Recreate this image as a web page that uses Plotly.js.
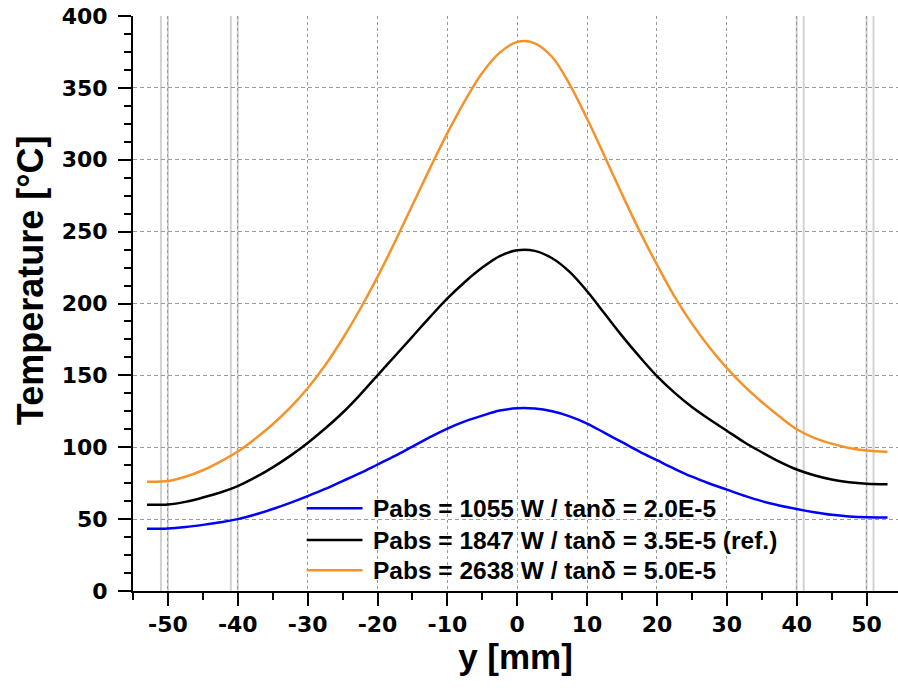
<!DOCTYPE html>
<html><head><meta charset="utf-8">
<script src="https://cdn.plot.ly/plotly-3.0.1.min.js"></script>
<style>html,body{margin:0;padding:0;background:#fff;overflow:hidden} #chart{width:898px;height:688px;}</style>
</head><body><div id="chart"></div>
<script>
// ---- data ----
const yPos     = [-53, -50, -47.5, -45, -42.5, -40, -37.5, -35, -32.5, -30, -27.5, -25, -22.5, -20, -17.5, -15, -12.5, -10, -7.5, -5, -2.5, 0, 2.5, 5, 7.5, 10, 12.5, 15, 17.5, 20, 22.5, 25, 27.5, 30, 32.5, 35, 37.5, 40, 42.5, 45, 47.5, 50, 53];
const tempLow  = [43.3, 43.5, 44.5, 46, 47.8, 50, 53.2, 57, 61.3, 66, 71, 76.5, 82, 88, 94, 100.5, 107, 113, 118, 122, 125.5, 127.1, 126.9, 125, 121.5, 116.5, 110, 103.5, 97, 91, 85, 79.5, 74.8, 70.5, 66.3, 62.5, 59.5, 57, 54.8, 53, 51.9, 51.3, 51.2];
const tempRef  = [60, 60.2, 62, 65, 68.5, 73, 79, 86, 94, 103, 113, 124, 136.5, 150, 163.5, 177, 190.5, 203.5, 215, 225, 233, 237, 236.6, 231.5, 222, 208.5, 193, 177.5, 163, 149.5, 138, 128, 119.5, 111.5, 103.5, 96.5, 90, 84.5, 80.5, 77.5, 75.6, 74.6, 74.2];
const tempHigh = [76, 76.5, 79.5, 84, 90, 97, 106, 116, 127.5, 141, 157, 175.5, 196, 218.5, 243, 268.5, 294, 318.5, 341, 360.5, 374.5, 382, 381, 371.5, 352.5, 328.5, 302.5, 276, 250.5, 227, 205, 186, 169.5, 155, 142.5, 131.5, 121.5, 112.5, 106.5, 102.5, 99.5, 97.7, 96.8];
const seriesNames = [
  'Pabs = 1055 W / tanδ = 2.0E-5',
  'Pabs = 1847 W / tanδ = 3.5E-5 (ref.)',
  'Pabs = 2638 W / tanδ = 5.0E-5'
];
const boundaryPos = [-51, -50, -41, -40, 40, 41, 50, 51];
const xTickVals = [-50, -40, -30, -20, -10, 0, 10, 20, 30, 40, 50];
const xTickText = ['-50', '-40', '-30', '-20', '-10', '0', '10', '20', '30', '40', '50'];
const yTickVals = [0, 50, 100, 150, 200, 250, 300, 350, 400];
const yTickText = ['0', '50', '100', '150', '200', '250', '300', '350', '400'];
const xTitle = 'y [mm]';
const yTitle = 'Temperature [°C]';

// ---- styling ----
const colors = ['#0000ff', '#000000', '#f5922a'];
const series = [tempLow, tempRef, tempHigh];
const traces = series.map((vals, i) => ({
  type: 'scatter', mode: 'lines', x: yPos, y: vals, name: seriesNames[i],
  line: {color: colors[i], width: 2.5, shape: 'spline', smoothing: 1},
  showlegend: false, hoverinfo: 'skip'
}));

const tickFont = {family: 'DejaVu Sans', size: 22, color: '#000', weight: 700};
const textFont = {family: 'Liberation Sans, Arial, sans-serif', color: '#000', weight: 700};

const shapes = boundaryPos.map(v => ({
  type: 'line', xref: 'x', yref: 'paper', x0: v, x1: v, y0: 0, y1: 1,
  line: {color: '#d2d2d2', width: 2}, layer: 'between'
}));

// legend (drawn in paper coords)
const legRowsY = [0.1438, 0.0885, 0.0363];
const annotations = [];
seriesNames.forEach((nm, i) => {
  shapes.push({type: 'line', xref: 'paper', yref: 'paper', x0: 0.227, x1: 0.300, y0: legRowsY[i], y1: legRowsY[i],
    line: {color: colors[i], width: 2.5}});
  annotations.push({xref: 'paper', yref: 'paper', x: 0.3115, y: legRowsY[i], xanchor: 'left', yanchor: 'middle',
    text: nm, showarrow: false, font: Object.assign({size: 24.5}, textFont)});
});
annotations.push({xref: 'paper', yref: 'paper', x: -0.133, y: 0.541, xanchor: 'center', yanchor: 'middle',
  textangle: -90, text: yTitle, showarrow: false, font: Object.assign({size: 36}, textFont)});

const layout = {
  width: 898, height: 688,
  margin: {l: 133, r: 0, t: 16, b: 97},
  paper_bgcolor: '#fff', plot_bgcolor: '#fff',
  showlegend: false,
  xaxis: {
    range: [-55, 54.5], tickmode: 'array', tickvals: xTickVals, ticktext: xTickText,
    ticks: 'outside', ticklen: 13, tickwidth: 2, tickcolor: '#000',
    showline: true, linewidth: 2, linecolor: '#000', zeroline: false,
    showgrid: true, gridcolor: '#9a9a9a', gridwidth: 1, griddash: '3px,3px',
    minor: {dtick: 5, tick0: 0, ticks: 'outside', ticklen: 7, tickwidth: 2, tickcolor: '#000', showgrid: false},
    tickfont: tickFont, ticklabelstandoff: 0,
    title: {text: xTitle, font: Object.assign({size: 35}, textFont), standoff: 8}
  },
  yaxis: {
    range: [0, 400], tickmode: 'array', tickvals: yTickVals, ticktext: yTickText,
    ticks: 'outside', ticklen: 13, tickwidth: 2, tickcolor: '#000',
    showline: true, linewidth: 2, linecolor: '#000', zeroline: false,
    showgrid: true, gridcolor: '#9a9a9a', gridwidth: 1, griddash: '4px,3px',
    minor: {dtick: 12.5, tick0: 0, ticks: 'outside', ticklen: 7, tickwidth: 2, tickcolor: '#000', showgrid: false},
    tickfont: tickFont, ticklabelstandoff: 6
  },
  shapes: shapes,
  annotations: annotations
};

Plotly.newPlot('chart', traces, layout, {displayModeBar: false, staticPlot: true});
</script>
</body></html>
